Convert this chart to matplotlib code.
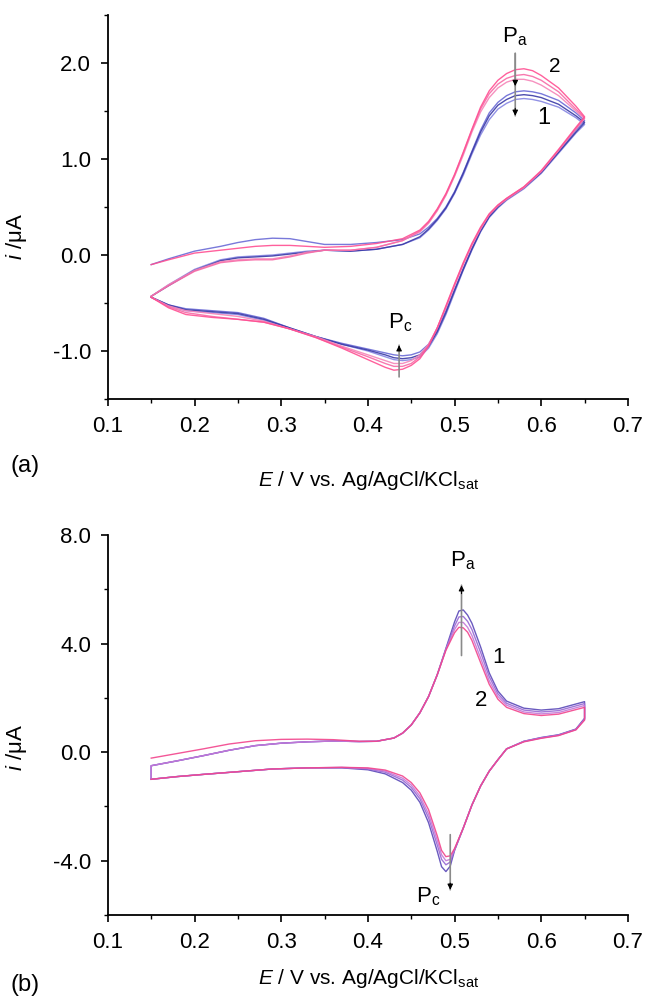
import matplotlib
matplotlib.use('Agg')
import matplotlib.pyplot as plt
from matplotlib.ticker import MultipleLocator, FormatStrFormatter

plt.rcParams['font.family'] = ['Liberation Sans', 'DejaVu Sans']
plt.rcParams['mathtext.fontset'] = 'custom'
plt.rcParams['mathtext.rm'] = 'Liberation Sans'
plt.rcParams['mathtext.it'] = 'Liberation Sans:italic'
plt.rcParams['axes.unicode_minus'] = False

# ---- panel (a): potential grids for anodic / cathodic sweeps ----
fwd_a = [0.15, 0.17, 0.20, 0.23, 0.25, 0.27, 0.29, 0.31, 0.33, 0.35, 0.38, 0.41, 0.44, 0.46, 0.47, 0.48,
         0.49, 0.50, 0.51, 0.52, 0.53, 0.54, 0.55, 0.56, 0.57, 0.58, 0.59, 0.60, 0.62, 0.64, 0.65]
rev_a = [0.65, 0.64, 0.62, 0.60, 0.58, 0.56, 0.55, 0.54, 0.53, 0.52, 0.51, 0.50, 0.49, 0.48, 0.47,
         0.46, 0.45, 0.44, 0.43, 0.42, 0.40, 0.37, 0.34, 0.31, 0.28, 0.25, 0.22, 0.19, 0.17, 0.15]

pink1_fwd = [-0.10, -0.05, 0.02, 0.05, 0.07, 0.09, 0.10, 0.10, 0.09, 0.08, 0.09, 0.12, 0.17, 0.26, 0.35, 0.48,
             0.64, 0.84, 1.07, 1.31, 1.54, 1.71, 1.82, 1.89, 1.93, 1.94, 1.92, 1.87, 1.74, 1.55, 1.44]
pink2_fwd = [-0.43, -0.32, -0.17, -0.08, -0.06, -0.05, -0.05, -0.02, 0.02, 0.05, 0.05, 0.08, 0.15, 0.25, 0.34, 0.47,
             0.63, 0.83, 1.06, 1.30, 1.52, 1.68, 1.78, 1.84, 1.87, 1.88, 1.86, 1.82, 1.70, 1.52, 1.43]
pink3_fwd = [-0.43, -0.31, -0.16, -0.07, -0.05, -0.04, -0.04, -0.01, 0.03, 0.05, 0.05, 0.08, 0.15, 0.24, 0.33, 0.46,
             0.62, 0.82, 1.04, 1.28, 1.49, 1.64, 1.74, 1.80, 1.83, 1.83, 1.81, 1.77, 1.66, 1.50, 1.42]
blue1_fwd = [-0.10, -0.04, 0.04, 0.09, 0.13, 0.16, 0.175, 0.17, 0.14, 0.11, 0.11, 0.13, 0.16, 0.22, 0.29, 0.38,
             0.50, 0.66, 0.86, 1.08, 1.30, 1.48, 1.59, 1.66, 1.70, 1.71, 1.70, 1.68, 1.61, 1.48, 1.40]
blue2_fwd = [-0.43, -0.32, -0.16, -0.06, -0.03, -0.02, -0.01, 0.01, 0.03, 0.05, 0.04, 0.06, 0.11, 0.19, 0.27, 0.37,
             0.49, 0.65, 0.85, 1.07, 1.28, 1.45, 1.56, 1.62, 1.66, 1.67, 1.66, 1.64, 1.57, 1.45, 1.38]
blue3_fwd = [-0.43, -0.31, -0.15, -0.05, -0.02, -0.01, 0.00, 0.02, 0.04, 0.05, 0.04, 0.06, 0.11, 0.18, 0.26, 0.36,
             0.48, 0.64, 0.83, 1.05, 1.25, 1.41, 1.52, 1.58, 1.62, 1.63, 1.62, 1.60, 1.54, 1.43, 1.36]

pink1_rev = [1.44, 1.33, 1.10, 0.88, 0.71, 0.59, 0.52, 0.43, 0.29, 0.12, -0.08, -0.30, -0.53, -0.76, -0.95,
             -1.08, -1.15, -1.19, -1.20, -1.17, -1.09, -0.97, -0.86, -0.77, -0.70, -0.67, -0.65, -0.62, -0.55, -0.44]
pink2_rev = [1.43, 1.32, 1.09, 0.87, 0.71, 0.59, 0.52, 0.42, 0.28, 0.11, -0.09, -0.31, -0.54, -0.76, -0.94,
             -1.06, -1.13, -1.16, -1.16, -1.13, -1.06, -0.96, -0.86, -0.77, -0.70, -0.67, -0.64, -0.60, -0.54, -0.44]
pink3_rev = [1.42, 1.31, 1.09, 0.87, 0.70, 0.58, 0.51, 0.42, 0.27, 0.10, -0.10, -0.32, -0.55, -0.76, -0.93,
             -1.04, -1.10, -1.13, -1.13, -1.10, -1.04, -0.95, -0.85, -0.77, -0.69, -0.64, -0.61, -0.58, -0.53, -0.44]
blue1_rev = [1.40, 1.30, 1.08, 0.86, 0.70, 0.58, 0.50, 0.40, 0.25, 0.07, -0.14, -0.36, -0.58, -0.78, -0.93,
             -1.01, -1.04, -1.05, -1.04, -1.02, -0.98, -0.92, -0.85, -0.76, -0.66, -0.60, -0.58, -0.56, -0.52, -0.44]
blue2_rev = [1.38, 1.28, 1.07, 0.86, 0.70, 0.58, 0.50, 0.40, 0.25, 0.06, -0.15, -0.37, -0.60, -0.80, -0.95,
             -1.04, -1.07, -1.08, -1.07, -1.04, -0.99, -0.93, -0.85, -0.76, -0.67, -0.61, -0.59, -0.57, -0.52, -0.44]
blue3_rev = [1.36, 1.27, 1.06, 0.85, 0.69, 0.57, 0.49, 0.39, 0.24, 0.05, -0.16, -0.39, -0.62, -0.82, -0.97,
             -1.06, -1.09, -1.10, -1.09, -1.06, -1.00, -0.93, -0.85, -0.77, -0.68, -0.62, -0.60, -0.58, -0.53, -0.44]

curves_a = [
    (blue3_fwd, blue3_rev, '#8585e2'),
    (blue1_fwd, blue1_rev, '#6a6ad6'),
    (blue2_fwd, blue2_rev, '#3a3aa6'),
    (pink3_fwd, pink3_rev, '#f585b8'),
    (pink2_fwd, pink2_rev, '#f76aa6'),
    (pink1_fwd, pink1_rev, '#ff4f92'),
]

# ---- panel (b) ----
fwd_b = [0.15, 0.15, 0.18, 0.21, 0.24, 0.27, 0.30, 0.33, 0.36, 0.39, 0.41, 0.43, 0.44, 0.45, 0.46, 0.47,
         0.48, 0.49, 0.50, 0.505, 0.51, 0.515, 0.52, 0.53, 0.54, 0.55, 0.56, 0.58, 0.60, 0.62, 0.65]
rev_b = [0.65, 0.64, 0.62, 0.60, 0.58, 0.56, 0.55, 0.54, 0.53, 0.52, 0.51, 0.50, 0.495, 0.49, 0.485,
         0.48, 0.47, 0.46, 0.45, 0.44, 0.42, 0.40, 0.37, 0.33, 0.29, 0.25, 0.21, 0.18, 0.15]

c1_fwd = [-0.22, -0.22, -0.05, 0.12, 0.30, 0.42, 0.47, 0.48, 0.46, 0.40, 0.40, 0.52, 0.70, 1.00, 1.45, 2.05,
          2.85, 3.75, 4.40, 4.60, 4.58, 4.42, 4.12, 3.30, 2.50, 1.95, 1.65, 1.42, 1.35, 1.40, 1.65]
c2_fwd = [-1.00, -0.50, -0.32, -0.13, 0.07, 0.24, 0.33, 0.38, 0.41, 0.39, 0.40, 0.52, 0.70, 1.00, 1.45, 2.05,
          2.85, 3.78, 4.52, 4.78, 4.78, 4.60, 4.30, 3.47, 2.63, 2.05, 1.73, 1.48, 1.41, 1.46, 1.72]
c3_fwd = [-1.00, -0.50, -0.32, -0.13, 0.07, 0.24, 0.33, 0.38, 0.41, 0.39, 0.40, 0.52, 0.70, 1.00, 1.45, 2.05,
          2.85, 3.80, 4.65, 4.98, 5.00, 4.82, 4.52, 3.68, 2.78, 2.15, 1.80, 1.55, 1.48, 1.53, 1.79]
c4_fwd = [-1.00, -0.50, -0.32, -0.13, 0.07, 0.24, 0.33, 0.38, 0.41, 0.39, 0.40, 0.52, 0.70, 1.00, 1.45, 2.05,
          2.85, 3.82, 4.80, 5.20, 5.24, 5.05, 4.75, 3.88, 2.92, 2.25, 1.88, 1.62, 1.55, 1.60, 1.86]

c1_rev = [1.18, 0.82, 0.61, 0.51, 0.38, 0.12, -0.28, -0.70, -1.25, -1.95, -2.80, -3.55, -3.82, -3.85, -3.62,
          -3.08, -2.12, -1.50, -1.12, -0.88, -0.66, -0.58, -0.56, -0.58, -0.62, -0.72, -0.82, -0.90, -1.00]
c2_rev = [1.20, 0.83, 0.62, 0.52, 0.39, 0.12, -0.28, -0.70, -1.25, -1.95, -2.80, -3.58, -3.95, -4.00, -3.78,
          -3.25, -2.28, -1.62, -1.21, -0.96, -0.70, -0.60, -0.56, -0.58, -0.62, -0.72, -0.82, -0.90, -1.00]
c3_rev = [1.22, 0.84, 0.63, 0.53, 0.40, 0.12, -0.28, -0.70, -1.25, -1.95, -2.80, -3.60, -4.05, -4.15, -3.95,
          -3.42, -2.42, -1.72, -1.30, -1.03, -0.74, -0.62, -0.57, -0.58, -0.62, -0.72, -0.82, -0.90, -1.00]
c4_rev = [1.25, 0.85, 0.64, 0.54, 0.40, 0.12, -0.28, -0.70, -1.25, -1.95, -2.80, -3.62, -4.20, -4.40, -4.22,
          -3.65, -2.60, -1.85, -1.40, -1.12, -0.80, -0.65, -0.58, -0.58, -0.62, -0.72, -0.82, -0.90, -1.00]

curves_b = [
    (c4_fwd, c4_rev, '#5a48b8'),
    (c3_fwd, c3_rev, '#9868d4'),
    (c2_fwd, c2_rev, '#c478d8'),
    (c1_fwd, c1_rev, '#f2448c'),
]

xlabel = r'$\it{E}$ / V vs. Ag/AgCl/KCl$_{\mathregular{sat}}$'
ylabel = r'$\it{i}$ /μA'

fig = plt.figure(figsize=(6.46, 10.0), dpi=100)
ax_a = fig.add_axes([0.167, 0.601, 0.805, 0.384])
ax_b = fig.add_axes([0.167, 0.085, 0.805, 0.380])


def style_axis(ax, ylim, ymajor, yminor):
    ax.set_xlim(0.1, 0.7)
    ax.set_ylim(*ylim)
    for s in ['top', 'right']:
        ax.spines[s].set_visible(False)
    for s in ['left', 'bottom']:
        ax.spines[s].set_linewidth(1.3)
    ax.xaxis.set_major_locator(MultipleLocator(0.1))
    ax.xaxis.set_minor_locator(MultipleLocator(0.05))
    ax.yaxis.set_major_locator(MultipleLocator(ymajor))
    ax.yaxis.set_minor_locator(MultipleLocator(yminor))
    ax.xaxis.set_major_formatter(FormatStrFormatter('%.1f'))
    ax.yaxis.set_major_formatter(FormatStrFormatter('%.1f'))
    ax.tick_params(which='major', direction='out', length=5, width=1.2, labelsize=16, pad=7)
    ax.tick_params(which='minor', direction='out', length=3, width=1.0)


def arrow(ax, tail, tip):
    ax.annotate('', xy=tip, xytext=tail,
                arrowprops=dict(arrowstyle='-', color='#8a8a8a', lw=1.2, shrinkA=0, shrinkB=0))
    ax.annotate('', xy=tip, xytext=(tip[0], tip[1] - (tip[1] - tail[1]) * 0.12),
                arrowprops=dict(arrowstyle='-|>', color='black', lw=0.8, mutation_scale=8,
                                shrinkA=0, shrinkB=0))


# panel (a)
for fwd, rev, col in curves_a:
    ax_a.plot(fwd_a + rev_a, fwd + rev, color=col, lw=1.0, alpha=0.9)
style_axis(ax_a, (-1.5, 2.5), 1.0, 0.5)
arrow(ax_a, (0.570, 2.10), (0.570, 1.45))
arrow(ax_a, (0.570, 2.10), (0.570, 1.76))
arrow(ax_a, (0.436, -1.27), (0.436, -0.94))
ax_a.text(0.570, 2.27, r'P$_{\mathregular{a}}$', fontsize=16, ha='center', va='center')
ax_a.text(0.437, -0.71, r'P$_{\mathregular{c}}$', fontsize=16, ha='center', va='center')
ax_a.text(0.616, 1.96, '2', fontsize=15, ha='center', va='center')
ax_a.text(0.603, 1.43, '1', fontsize=17, ha='center', va='center')

# panel (b)
for fwd, rev, col in curves_b:
    ax_b.plot(fwd_b + rev_b, fwd + rev, color=col, lw=1.0, alpha=0.9)
style_axis(ax_b, (-6.0, 8.0), 4.0, 2.0)
arrow(ax_b, (0.508, 3.56), (0.508, 6.15))
arrow(ax_b, (0.495, -3.04), (0.495, -5.07))
ax_b.text(0.510, 7.07, r'P$_{\mathregular{a}}$', fontsize=16, ha='center', va='center')
ax_b.text(0.470, -5.33, r'P$_{\mathregular{c}}$', fontsize=16, ha='center', va='center')
ax_b.text(0.551, 3.48, '1', fontsize=16, ha='center', va='center')
ax_b.text(0.531, 1.89, '2', fontsize=16, ha='center', va='center')

# axis titles and panel letters placed in figure coordinates
fig.text(0.570, 0.520, xlabel, fontsize=15, ha='center', va='center')
fig.text(0.570, 0.021, xlabel, fontsize=15, ha='center', va='center')
fig.text(0.025, 0.763, ylabel, fontsize=16, ha='center', va='center', rotation=90)
fig.text(0.025, 0.252, ylabel, fontsize=16, ha='center', va='center', rotation=90)
fig.text(0.039, 0.534, '(a)', fontsize=17, ha='center', va='center')
fig.text(0.039, 0.015, '(b)', fontsize=17, ha='center', va='center')

fig.savefig('out.png', dpi=100, facecolor='white')
